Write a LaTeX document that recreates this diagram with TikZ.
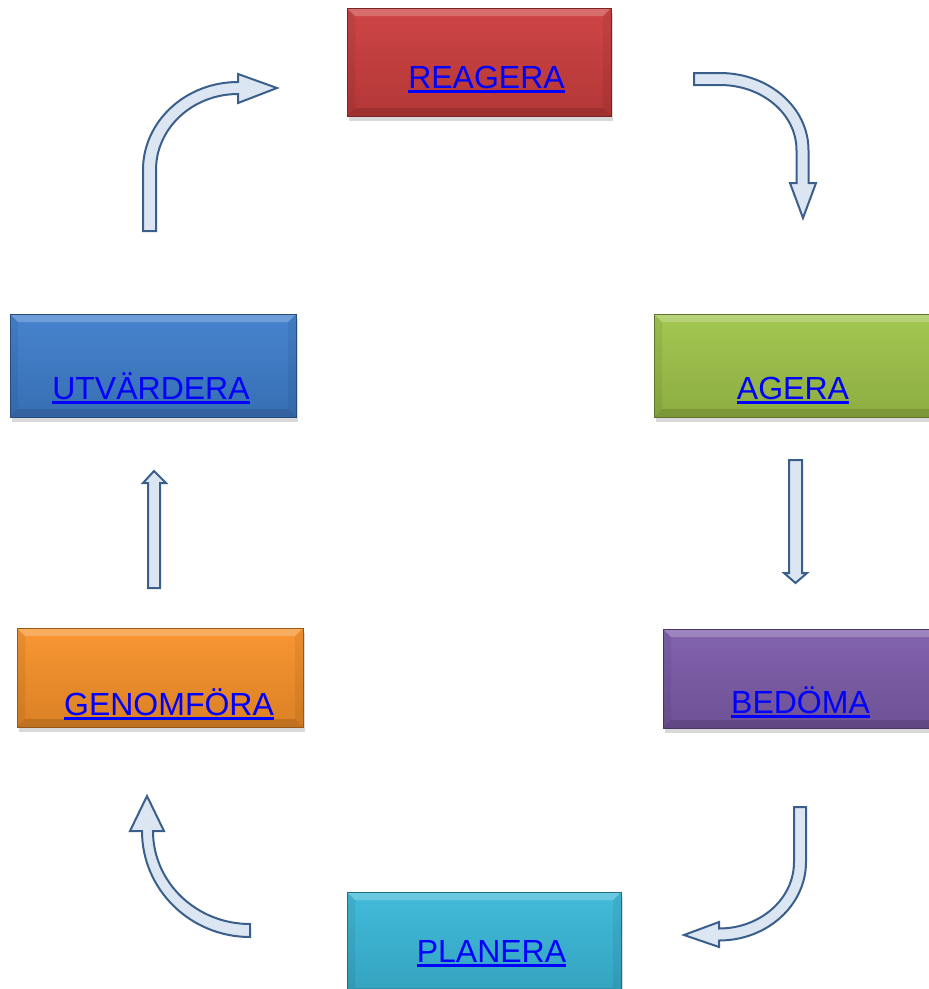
\documentclass[tikz,border=0pt]{standalone}
\usepackage{fontspec}
\setmainfont{Liberation Sans}
\usepackage{tikz}
\usetikzlibrary{shadows}
\definecolor{redbox}{HTML}{CC3E3E}
\definecolor{greenbox}{HTML}{A0C44A}
\definecolor{purplebox}{HTML}{7D5CAA}
\definecolor{cyanbox}{HTML}{3AB8D8}
\definecolor{orangebox}{HTML}{F8922A}
\definecolor{bluebox}{HTML}{3F7ECC}
\definecolor{linkblue}{HTML}{0000FF}
\definecolor{arrowfill}{HTML}{DCE6F2}
\definecolor{arrowline}{HTML}{3A5F8B}

\tikzset{
  bevelled/.style={path picture={
    \fill[white,opacity=.22] (path picture bounding box.north west) -- (path picture bounding box.north east)
      -- ([shift={(-8,8)}]path picture bounding box.north east) -- ([shift={(8,8)}]path picture bounding box.north west) -- cycle;
    \fill[black,opacity=.12] (path picture bounding box.south west) -- (path picture bounding box.south east)
      -- ([shift={(-8,-8)}]path picture bounding box.south east) -- ([shift={(8,-8)}]path picture bounding box.south west) -- cycle;
    \fill[black,opacity=.06] (path picture bounding box.north west) -- ([shift={(8,8)}]path picture bounding box.north west)
      -- ([shift={(8,-8)}]path picture bounding box.south west) -- (path picture bounding box.south west) -- cycle;
    \fill[black,opacity=.06] (path picture bounding box.north east) -- ([shift={(-8,8)}]path picture bounding box.north east)
      -- ([shift={(-8,-8)}]path picture bounding box.south east) -- (path picture bounding box.south east) -- cycle;
  }},
  box/.style={rectangle, inner sep=0pt, draw=#1!60!black, line width=.6pt,
    top color=#1!96!white, bottom color=#1!88!black, bevelled,
    drop shadow={shadow xshift=2pt, shadow yshift=-5pt, opacity=.3}},
  linktext/.style={text=linkblue, font=\fontsize{32}{38}\selectfont, anchor=base, inner sep=0pt},
  underline/.style={draw=linkblue, line width=3pt},
  bigarrow/.style={fill=arrowfill, draw=arrowline, line width=2pt}
}

\begin{document}
\begin{tikzpicture}[x=1pt, y=-1pt]
\useasboundingbox (0,0) rectangle (929,989);
\clip (0,0) rectangle (929,989);

\node[box=redbox, minimum width=264pt, minimum height=108pt] (reagera) at (479,62) {};
\node[box=greenbox, minimum width=290pt, minimum height=103pt] (agera) at (799,365.5) {};
\node[box=purplebox, minimum width=290pt, minimum height=99pt] (bedoma) at (808,678.5) {};
\node[box=cyanbox, minimum width=274pt, minimum height=104pt] (planera) at (484,944) {};
\node[box=orangebox, minimum width=286pt, minimum height=99pt] (genomfora) at (160,677.5) {};
\node[box=bluebox, minimum width=286pt, minimum height=103pt] (utvardera) at (153,365.5) {};

\node[linktext] (t-reagera) at (486.5,88) {REAGERA};
\node[linktext] (t-agera) at (793,399) {AGERA};
\node[linktext] (t-bedoma) at (800.5,713) {BEDÖMA};
\node[linktext] (t-planera) at (491.5,962) {PLANERA};
\node[linktext] (t-genomfora) at (169,715) {GENOMFÖRA};
\node[linktext] (t-utvardera) at (151,399) {UTVÄRDERA};
\foreach \t in {reagera, agera, bedoma, planera, genomfora, utvardera}
  \draw[underline] ([yshift=-3.5pt]t-\t.base west) -- ([yshift=-3.5pt]t-\t.base east);

\draw[bigarrow] (694,73) -- (720,73) arc[start angle=-90, end angle=0, x radius=88.5, y radius=77]
  -- (808.5,183) -- (816,183) -- (803,218) -- (790,183) -- (796.5,183) -- (796.5,150)
  arc[start angle=0, end angle=-90, x radius=76.5, y radius=65] -- (694,85) -- cycle;
\draw[bigarrow] (789,460) -- (802,460) -- (802,573) -- (807,573) -- (795.5,583) -- (784,573) -- (789,573) -- cycle;
\draw[bigarrow] (794,807) -- (806,807) -- (806,862) arc[start angle=0, end angle=90, x radius=87, y radius=78.5]
  -- (719,947) -- (684,935) -- (719,922) -- (719,928.5)
  arc[start angle=90, end angle=0, x radius=75, y radius=66.5] -- cycle;
\draw[bigarrow] (250,924) -- (250,937) arc[start angle=90, end angle=180, x radius=108, y radius=106]
  -- (130,831) -- (147,796) -- (164,831) -- (153,831)
  arc[start angle=180, end angle=90, x radius=97, y radius=93] -- cycle;
\draw[bigarrow] (148,588) -- (148,483) -- (143,483) -- (154,471) -- (166,483) -- (160,483) -- (160,588) -- cycle;
\draw[bigarrow] (143,231) -- (143,170) arc[start angle=180, end angle=270, x radius=95, y radius=88]
  -- (238,74) -- (277,88) -- (238,103) -- (238,94)
  arc[start angle=270, end angle=180, x radius=82, y radius=76] -- (156,231) -- cycle;
\end{tikzpicture}
\end{document}
